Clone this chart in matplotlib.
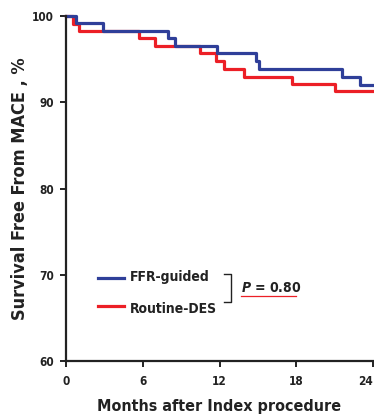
import matplotlib.pyplot as plt
from matplotlib import font_manager

# step curves (months, survival %)
ffr_months = [0, 0.78, 2.87, 8.0, 8.5, 11.78, 14.86, 15.1, 21.6, 23.0, 24]
ffr_surv = [100, 99.15, 98.3, 97.44, 96.55, 95.66, 94.77, 93.84, 92.94, 92.05, 92.05]
des_months = [0, 0.57, 1.0, 5.73, 6.96, 10.48, 11.7, 12.38, 13.9, 17.7, 21.0, 24]
des_surv = [100, 99.1, 98.26, 97.4, 96.47, 95.66, 94.77, 93.84, 92.94, 92.1, 91.28, 91.28]

xticks = [0, 6, 12, 18, 24]
yticks = [60, 70, 80, 90, 100]

fonts = font_manager.fontManager.ttflist
names = {f.name for f in fonts}
narrow = [f for f in fonts if 'Narrow' in f.name or 'Condensed' in f.fname]
if 'Liberation Sans Narrow' in names:
    fam, stretch = 'Liberation Sans Narrow', 'normal'
elif narrow:
    fam, stretch = 'DejaVu Sans', 'condensed'
else:
    fam, stretch = 'Liberation Sans', 'normal'
plt.rcParams['font.family'] = [fam, 'DejaVu Sans']
plt.rcParams['font.stretch'] = stretch

dark = '#222222'
blue = '#2f3f99'
red = '#ec1f26'

fig = plt.figure(figsize=(3.74, 4.17), dpi=100)
ax = fig.add_axes([66/374, 56/417, 307/374, 345/417])

ax.step(des_months, des_surv, where='post', color=red, lw=2.3, clip_on=False)
ax.step(ffr_months, ffr_surv, where='post', color=blue, lw=2.3, clip_on=False)

ax.set_xlim(0, 24)
ax.set_ylim(60, 100)
ax.set_xticks(xticks)
ax.set_yticks(yticks)
for s in ['top', 'right']:
    ax.spines[s].set_visible(False)
for s in ['left', 'bottom']:
    ax.spines[s].set_linewidth(1.6)
    ax.spines[s].set_color(dark)
ax.tick_params(axis='both', direction='out', length=4, width=1.4, labelsize=8.5, colors=dark)
ax.tick_params(axis='y', pad=5)
ax.tick_params(axis='x', pad=6)
for lab in ax.get_xticklabels() + ax.get_yticklabels():
    lab.set_fontweight('bold')
ax.get_xticklabels()[-1].set_horizontalalignment('right')

ax.set_xlabel('Months after Index procedure', fontsize=11.5, fontweight='bold', color=dark, labelpad=8)
ax.set_ylabel('Survival Free From MACE , %', fontsize=13, fontweight='bold', color=dark, labelpad=2)

# legend drawn by hand
ax.plot([2.5, 4.5], [69.6, 69.6], color=blue, lw=2.3)
ax.plot([2.5, 4.5], [66.4, 66.4], color=red, lw=2.3)
ax.text(5.0, 69.7, 'FFR-guided', fontsize=10, fontweight='bold', va='center', color=dark)
ax.text(5.0, 66.0, 'Routine-DES', fontsize=10, fontweight='bold', va='center', color=dark)
ax.plot([12.35, 12.9, 12.9, 12.35], [70.1, 70.1, 66.8, 66.8], color=dark, lw=1.0)
ax.text(13.7, 68.45, r'$\bfit{P}$' + ' = 0.80', fontsize=10, fontweight='bold', va='center', color=dark)
ax.plot([13.7, 18.0], [67.55, 67.55], color=red, lw=0.9)

fig.savefig('out.png', dpi=100)
